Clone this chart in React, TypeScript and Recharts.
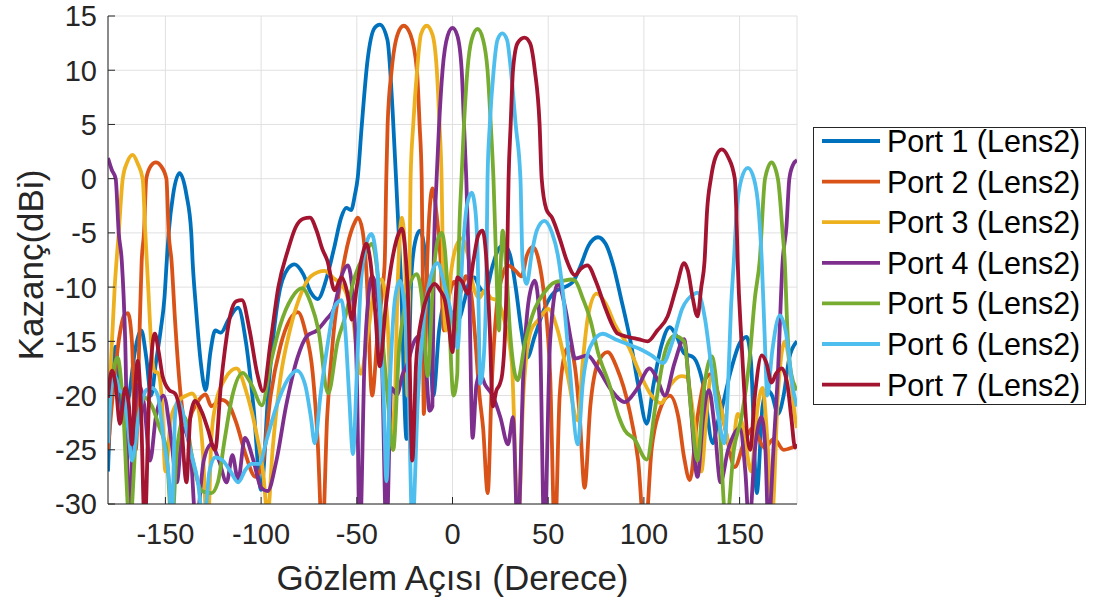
import { LineChart, Line, XAxis, YAxis, CartesianGrid } from "recharts";

const FONT = "'Liberation Sans', Arial, Helvetica, sans-serif";
const INK = "#262626";

const xTicks = [-150, -100, -50, 0, 50, 100, 150];
const yTicks = [-30, -25, -20, -15, -10, -5, 0, 5, 10, 15];

const portNames = [
  "Port 1 (Lens2)", "Port 2 (Lens2)", "Port 3 (Lens2)", "Port 4 (Lens2)",
  "Port 5 (Lens2)", "Port 6 (Lens2)", "Port 7 (Lens2)",
];
const portColors = ["#0072BD", "#D95319", "#EDB120", "#7E2F8E", "#77AC30", "#4DBEEE", "#A2142F"];

// [angle (deg), gain (dBi)]
const port1 = [
  [-180, -27], [-179, -22], [-177.5, -17], [-176, -15.5], [-174.5, -18], [-172, -22], [-169, -20], [-166, -16],
  [-162.6, -14], [-160, -16.5], [-157.5, -20], [-155, -17], [-152.5, -14], [-150.5, -11], [-149.3, -7.6], [-148.3, -5],
  [-146, -1.5], [-142.6, 0.5], [-139, -1.5], [-136.5, -5], [-135.8, -7.6], [-134, -12], [-131.5, -17], [-129, -19.5],
  [-126.5, -16], [-124, -14], [-121, -14.2], [-117, -13], [-112, -11.9], [-108, -15], [-104, -21], [-100, -28.7],
  [-96, -19], [-91, -11], [-86, -8.3], [-82.5, -7.9], [-78, -8.8], [-74, -10.5], [-70.4, -11.1], [-66, -9.3],
  [-62, -6.5], [-58, -3.5], [-55.5, -2.7], [-53, -2.9], [-51, -1.5], [-49.5, 0.1], [-47.5, 4.7], [-44.4, 10.9],
  [-40.7, 13.9], [-38, 14.2], [-34, 12.8], [-31.3, 6.3], [-28.7, -2.9], [-27, -9], [-24, -24], [-21.5, -9],
  [-19.5, -5.8], [-17, -4.8], [-15, -6], [-13, -10], [-10, -20], [-7, -14], [-4, -11.5], [0, -12.5], [3, -13],
  [6.3, -11.2], [9, -9.4], [11.5, -9.1], [14, -10], [17, -10.5], [21, -8], [24, -6.5], [27, -6.1], [30, -7],
  [33, -10], [36, -14], [39, -16.5], [43, -14.5], [48, -12], [53, -10.5], [58.6, -10], [63, -9.5], [67, -8],
  [71, -6.2], [76, -5.4], [80, -6], [84, -8], [88, -11], [93, -15], [97, -19], [101.5, -22.6], [105, -19],
  [109, -15.5], [113.5, -13.7], [117, -14.5], [121, -16.1], [126, -16.5], [131, -19], [136, -24.4], [138.5, -22.5],
  [141, -21], [145, -18], [150, -15.2], [153.7, -14.6], [156, -17], [159, -29], [162, -21], [164.5, -19.5],
  [167, -20], [170, -21.7], [173, -20], [176, -16.5], [180, -15],
];

const port2 = [
  [-180, -25], [-177, -19], [-174, -14.5], [-171.5, -12.6], [-169.6, -12.4], [-167.5, -15], [-165.5, -25], [-163.5, -14],
  [-162.4, -7.6], [-161.2, -5], [-160, 0], [-157.5, 1.2], [-155, 1.5], [-152.5, 1.2], [-149.5, 0], [-148.3, -5],
  [-146.8, -7.6], [-145, -13], [-142, -20], [-139, -23], [-136, -21.5], [-132, -20.3], [-129, -19.9], [-126, -21],
  [-123, -20.6], [-120.5, -20.4], [-117, -20.8], [-113, -22.5], [-108, -25.5], [-103, -27.5], [-99, -26], [-95, -20],
  [-90, -15.5], [-85, -13], [-80.8, -12.3], [-77, -14], [-73, -18], [-70.5, -24], [-68, -33], [-65.5, -22],
  [-62, -14], [-58, -9], [-54, -5.5], [-51, -4], [-49.4, -3.6], [-47, -4.8], [-45, -8.5], [-42, -20], [-39, -14],
  [-36.5, -10], [-35.4, -7.6], [-34.6, 0], [-33.9, 5], [-31.8, 10], [-28.5, 13.4], [-25.5, 14.1], [-22, 13.3],
  [-18.6, 10], [-17.2, 5], [-16.1, 0], [-15.6, -7.6], [-15, -21.7], [-13.2, -7.6], [-11.8, -2.5], [-10.4, -0.9],
  [-8.5, -3], [-6.2, -7.6], [-4.5, -14], [-2, -11], [1, -9.5], [4, -10.5], [7, -9], [10, -11], [12, -15],
  [14, -19.8], [16, -23], [18.4, -29], [20.5, -19], [23, -12], [26, -9], [29, -8], [33, -8.5], [36, -9], [39, -7],
  [42, -6.3], [45, -7.5], [48, -11], [51, -18], [53.5, -33], [56, -20], [59, -16], [61, -15.5], [64, -17.4],
  [66.5, -22], [69, -28.5], [72, -21], [76, -17], [81, -16], [86, -17.5], [92, -21], [97, -26], [100.5, -33],
  [104, -25], [108, -21.5], [113.5, -20], [118, -22], [121, -25.7], [124, -27.8], [128, -22], [132, -18.5],
  [135.5, -18], [139, -20], [143, -23.5], [147.5, -26.6], [152, -24.5], [157, -23], [163, -24.8], [168, -24],
  [173, -25], [180, -24.6],
];

const port3 = [
  [-180, -20.7], [-178.5, -17], [-176.5, -10], [-174.4, -5], [-172.3, 0], [-170, 1.5], [-167.1, 2.2], [-164.5, 1.4],
  [-161.9, 0], [-160.5, -5], [-159, -10], [-157.5, -15], [-155.5, -17.8], [-154, -17.9], [-152, -20], [-150, -27],
  [-147, -22], [-143, -20.5], [-139, -20], [-136, -19.8], [-133, -21], [-130.5, -25], [-128, -33], [-126, -24],
  [-124, -21], [-119, -18.5], [-112.8, -17.5], [-108, -19.5], [-103, -23], [-99, -27], [-96.6, -31], [-94, -25],
  [-90, -18.5], [-85, -14], [-80, -11], [-74, -9], [-66.8, -8.5], [-62, -9.2], [-57, -10], [-52, -13], [-48, -18],
  [-44, -14], [-40, -9.5], [-37, -9.3], [-34, -13], [-31, -25], [-28.5, -9], [-26.5, -3.6], [-25, -6], [-23.5, -20],
  [-22.4, -7.6], [-21.9, 0], [-20.5, 5], [-18.5, 10], [-16.5, 13.3], [-13.5, 14.1], [-10.5, 13.3], [-8.2, 10],
  [-6.8, 5], [-5.7, 0], [-5, -7.6], [-3.5, -14], [-1, -9], [2, -6.2], [5, -5.5], [8, -7], [11, -10], [14, -11],
  [16.8, -10.3], [20, -11], [23, -11.2], [27, -13], [31, -17], [34.3, -32], [37, -20], [41, -14], [45, -13],
  [50, -12], [55, -14], [60, -18], [65.5, -22.3], [68, -17], [71, -12.5], [75.3, -10.6], [80, -11.5], [85, -13.5],
  [92, -15.5], [98, -18], [104, -20], [109, -20.7], [114, -19], [119.6, -18.2], [122.4, -18.3], [126, -22],
  [130, -27], [133, -21], [135, -18.3], [140, -21], [146, -25], [149, -21.7], [152, -23], [156, -27], [159.5, -21],
  [162, -19.3], [164.5, -24], [167, -31], [170, -20], [173.6, -15], [176, -17], [179, -22], [180, -23],
];

const port4 = [
  [-180, 1.9], [-178, 0.8], [-176, 0], [-174.4, -5], [-172.8, -7.6], [-171, -15], [-169, -32], [-167, -24],
  [-164, -19], [-161, -21], [-158, -26], [-155, -22], [-151, -20], [-147, -24], [-144, -28], [-141, -23],
  [-137, -25], [-134, -32], [-130, -26], [-126, -24.5], [-122, -26], [-118, -28], [-115, -25.5], [-112, -27.8],
  [-108.5, -23.9], [-104, -26], [-100, -28.5], [-96.6, -28.8], [-92, -26], [-87, -21], [-81, -16.5], [-76, -14.5],
  [-70.9, -14], [-66, -13], [-62, -12], [-58, -9], [-54.7, -8], [-52, -11], [-50, -18], [-48.4, -33], [-46, -17],
  [-44, -11], [-42, -9], [-40, -10], [-37, -16], [-34.5, -33], [-32, -19.3], [-29, -19.9], [-26, -18], [-24, -17.3],
  [-20, -15], [-17, -14.5], [-14, -17], [-12, -21.4], [-10.5, -21], [-9.8, -7.6], [-8.3, 0], [-7, 5], [-5.2, 10],
  [-2.5, 13.2], [0, 13.9], [2.5, 13.2], [4.8, 10], [6, 5], [7.2, 0], [8.5, -7.6], [10.5, -23.9], [12.5, -19],
  [14.5, -18], [17, -19], [21, -20], [25, -22], [29, -24.5], [31.6, -22], [34.1, -33], [37, -18], [40, -11],
  [43, -9.4], [45.5, -13], [48, -33], [51, -15], [55, -9.7], [59, -12], [62, -15], [64, -16.6], [70.5, -16.3],
  [76, -17.5], [83, -19.5], [90, -20.6], [96, -19.5], [103, -17.5], [107, -18.5], [111, -20], [116, -17],
  [121, -14.8], [124, -20], [128, -27.5], [131, -22], [134, -19.5], [137, -23], [140, -28], [144, -25], [150, -23],
  [153, -27], [155, -32], [158, -25], [161.5, -22], [163.5, -25], [165, -32], [168, -24], [170, -18], [172.5, -7.6],
  [174.5, -4.4], [176, 0], [178, 1.3], [180, 1.7],
];

const port5 = [
  [-180, -21.4], [-177.5, -18], [-175, -16.5], [-172.5, -20], [-168.6, -32], [-165, -23], [-160.8, -20.2],
  [-157, -21], [-153, -23], [-149.5, -25], [-146.6, -32], [-144, -25], [-140, -22], [-136, -25.7], [-131, -28.8],
  [-126, -29], [-122.6, -28], [-119, -24], [-115, -20], [-109.6, -17.9], [-105, -19], [-99.6, -20.9], [-95, -17],
  [-90, -13.5], [-84, -11], [-78.6, -10.1], [-74, -11.5], [-70, -14], [-65, -19.8], [-60, -15], [-56, -12.7],
  [-51, -9], [-46, -7], [-42, -6], [-39, -9], [-36, -16], [-34, -20], [-31, -25], [-28, -16], [-24, -11],
  [-18.7, -8.8], [-16, -11], [-13, -18.2], [-10, -9], [-7.5, -5.5], [-5.7, -5], [-4, -6.5], [-2, -12], [0.5, -20],
  [2.5, -18], [3.2, -7.6], [4.7, 0], [6, 5], [7.8, 10], [10, 12.8], [13.1, 13.8], [16, 12.8], [18.3, 10], [20, 5],
  [21.4, 0], [22.8, -7.6], [24.3, -14], [25.2, -8], [26.2, -4.8], [28, -8], [30, -14], [34, -18.6], [38, -15],
  [43, -12], [48, -10.5], [53, -9.6], [58, -9.4], [62, -9.3], [64, -9.4], [68, -11], [72, -13], [76, -16], [82, -19],
  [87, -22], [90, -23.2], [95, -24], [101.5, -25.9], [106, -21], [111, -16], [116, -14.5], [121, -15], [125, -22],
  [128, -26], [131, -20], [135.5, -16.4], [139, -21], [143, -32], [147, -25], [151, -22], [155, -17], [158, -11],
  [160.5, -7.6], [163.3, 0], [166.7, 1.5], [170, 0], [172.5, -5], [173.6, -7.6], [175, -14], [177, -18], [180, -19.5],
];

const port6 = [
  [-180, -24.4], [-178, -19], [-176, -18.3], [-174, -19.5], [-172, -19.8], [-169.5, -23], [-167.5, -26], [-164, -22],
  [-160, -19.5], [-157, -19.3], [-154, -20], [-151, -24], [-148, -28], [-146.6, -32], [-145, -22], [-143.5, -20.5],
  [-141, -21.5], [-137, -25], [-133, -28], [-130, -32], [-127, -27], [-124, -25.7], [-120, -26], [-116, -27],
  [-112, -28], [-108, -26.8], [-105, -26.3], [-101, -26.3], [-97, -24], [-92, -21], [-86, -18.5], [-81.3, -17.7],
  [-77, -19], [-74, -22], [-72, -24.4], [-69, -20], [-65, -15], [-62, -12], [-60, -11.4], [-58, -11.2], [-56, -14],
  [-54, -20], [-52, -25.4], [-50, -18], [-48, -10], [-45, -6], [-42.4, -5.1], [-40, -7], [-38, -12], [-36, -20],
  [-34.5, -27.9], [-32.5, -18], [-30, -11], [-27.5, -9.4], [-25, -12], [-23, -19], [-21, -32], [-18, -20], [-15, -13],
  [-12, -9.5], [-7.8, -7.8], [-4, -10], [0, -13], [2.6, -15.6], [5.3, -6.8], [7.5, -2.5], [10, -1.3], [12, -3],
  [13.1, -6.8], [14.5, -18.9], [16.5, -16], [17.8, -7.6], [18.3, 0], [19.5, 5], [21.5, 10], [23.5, 12.8], [26, 13.4],
  [28.5, 12.8], [30.5, 10], [33, 5], [35.5, 0], [36.6, -7.6], [38.7, -9.7], [41.5, -6.8], [44, -4.8], [48, -3.9],
  [52, -5], [55, -7], [58, -11], [61, -17], [65.5, -24.5], [68, -19], [72, -15.5], [78.4, -14.3], [85, -14.8],
  [92, -15.3], [99, -15.8], [104, -16.3], [110, -17], [115, -15], [120, -12], [126.6, -10.6], [128, -10.5],
  [132, -13], [135, -17], [139, -22], [142, -24.4], [144, -19], [145.5, -12], [147, -7.6], [148.5, -3], [151, 0],
  [154.3, 1], [157.5, 0], [160, -3], [161.6, -7.6], [163, -14], [164.5, -20], [167, -16], [171, -12.6], [174, -14],
  [178, -19.5], [180, -21],
];

const port7 = [
  [-180, -20.2], [-178, -17.7], [-176, -19], [-173.8, -22.6], [-171, -19.3], [-169, -21], [-167.5, -24.5],
  [-166, -20], [-164.5, -16.8], [-163, -20], [-160.8, -32], [-158.5, -20], [-155.5, -14.3], [-153.5, -16],
  [-151.5, -18.2], [-148, -19.5], [-145, -19.8], [-142, -22], [-139, -28], [-137, -22], [-134.6, -20.5],
  [-131, -21.5], [-128, -23], [-124, -25], [-121, -19], [-119, -15.9], [-116, -12.5], [-113, -11.3], [-110, -11.2],
  [-106, -14], [-102, -18], [-99, -19.6], [-95, -15], [-91, -10], [-86, -6.6], [-82, -4.5], [-78, -3.7],
  [-74.5, -3.6], [-71, -4.8], [-68, -6.5], [-65.3, -7.6], [-61.6, -10.3], [-58, -9.1], [-55, -10.5], [-52.6, -13],
  [-50, -10], [-47, -7], [-45, -6], [-43, -7.5], [-40.5, -12], [-38, -17.3], [-35, -12], [-31, -7], [-28, -5],
  [-26.5, -4.6], [-25, -6], [-23, -12], [-21, -26], [-19, -17], [-16, -12.7], [-12.5, -10.5], [-9.3, -9.7],
  [-6.5, -10.3], [-4, -11.2], [-2, -13.5], [0, -16], [1.3, -12], [2.6, -9.1], [5, -9.5], [8, -10.6], [11, -7.5],
  [13.5, -5.2], [15.7, -4.8], [17.5, -7], [19.5, -14], [21, -21], [23, -19.5], [24.6, -19], [26, -18], [27.5, -14],
  [28.5, -8], [29.3, 0], [30.4, 5], [31.6, 10], [34, 12.5], [37.6, 13], [40.5, 12.5], [43, 10], [45.5, 5],
  [46.6, 0], [49, -2.8], [52, -3.6], [56, -5.5], [59.8, -7.6], [64, -8.9], [67, -8.3], [70.5, -8], [75, -9.5],
  [80, -12], [86.4, -14.3], [92, -14.6], [97, -14.8], [102, -15], [107, -14], [112.4, -12.7], [117, -10],
  [121, -7.8], [123, -8.5], [125.5, -11], [128, -12.7], [130, -10], [131.7, -7.6], [133, -3], [135, 0],
  [137.5, 2], [140.7, 2.7], [144, 2], [147.5, 0], [148.3, -3], [149, -7.6], [151, -15], [155.5, -25], [158, -20],
  [161.6, -16.3], [164, -17], [166.7, -18.8], [169, -18], [172, -17.5], [175, -19], [177, -22], [179, -24.8],
  [180, -24.5],
];

const ports = [port1, port2, port3, port4, port5, port6, port7];

const toPts = (arr: number[][]) => arr.map(([x, y]) => ({ x, y }));

function XTick({ x, y, payload }: any) {
  return (
    <g>
      <line x1={x} x2={x} y1={y} y2={y - 7} stroke={INK} />
      <text x={x} y={y + 40} textAnchor="middle" fontSize={29} fill={INK} fontFamily={FONT}>
        {payload.value}
      </text>
    </g>
  );
}

function YTick({ x, y, payload }: any) {
  return (
    <g>
      <line x1={x} x2={x + 7} y1={y} y2={y} stroke={INK} />
      <text x={x - 11} y={y} dy="0.36em" textAnchor="end" fontSize={29} fill={INK} fontFamily={FONT}>
        {payload.value}
      </text>
    </g>
  );
}

function TopTick({ x, y }: any) {
  return <line x1={x} x2={x} y1={y} y2={y + 7} stroke={INK} />;
}

function RightTick({ x, y }: any) {
  return <line x1={x} x2={x - 7} y1={y} y2={y} stroke={INK} />;
}

function XLabel() {
  return (
    <text x={452.5} y={590} textAnchor="middle" fontSize={35} fill={INK} fontFamily={FONT}>
      Gözlem Açısı (Derece)
    </text>
  );
}

function YLabel() {
  return (
    <text
      x={30}
      y={265}
      textAnchor="middle"
      dominantBaseline="central"
      transform="rotate(-90, 30, 265)"
      fontSize={35}
      fill={INK}
      fontFamily={FONT}
    >
      Kazanç(dBi)
    </text>
  );
}

function PortLegend() {
  return (
    <div
      style={{
        position: "absolute", left: 813, top: 127, width: 273, height: 278,
        boxSizing: "border-box", border: `1px solid ${INK}`, background: "#fff",
      }}
    >
      <svg width={271} height={276} style={{ overflow: "visible", display: "block" }}>
        {portNames.map((name, i) => {
          const cy = 13 + i * 40.6;
          return (
            <g key={name}>
              <line x1={8} x2={66} y1={cy} y2={cy} stroke={portColors[i]} strokeWidth={3.8} />
              <text x={73} y={cy} dy="0.36em" fontSize={30.5} fill="#000" fontFamily={FONT}>
                {name}
              </text>
            </g>
          );
        })}
      </svg>
    </div>
  );
}

export default function App() {
  return (
    <div style={{ position: "absolute", left: 0, top: 0, width: 1095, height: 604, background: "#fff" }}>
      <LineChart width={1095} height={604} margin={{ top: 16, right: 298, bottom: 40, left: 8 }}>
        <CartesianGrid stroke="#e0e0e0" />
        <XAxis
          dataKey="x"
          type="number"
          domain={[-180, 180]}
          ticks={xTicks}
          interval={0}
          tick={XTick}
          tickLine={false}
          tickSize={0}
          tickMargin={0}
          axisLine={{ stroke: INK }}
          height={60}
          allowDataOverflow
          label={XLabel}
        />
        <XAxis
          xAxisId="top"
          orientation="top"
          type="number"
          domain={[-180, 180]}
          ticks={xTicks}
          interval={0}
          tick={TopTick}
          tickLine={false}
          tickSize={0}
          tickMargin={0}
          axisLine={{ stroke: INK }}
          height={0}
          allowDataOverflow
        />
        <YAxis
          type="number"
          domain={[-30, 15]}
          ticks={yTicks}
          interval={0}
          tick={YTick}
          tickLine={false}
          tickSize={0}
          tickMargin={0}
          axisLine={{ stroke: INK }}
          width={100}
          allowDataOverflow
          label={YLabel}
        />
        <YAxis
          yAxisId="right"
          orientation="right"
          type="number"
          domain={[-30, 15]}
          ticks={yTicks}
          interval={0}
          tick={RightTick}
          tickLine={false}
          tickSize={0}
          tickMargin={0}
          axisLine={{ stroke: INK }}
          width={0}
          allowDataOverflow
        />
        {ports.map((p, i) => (
          <Line
            key={portNames[i]}
            data={toPts(p)}
            dataKey="y"
            name={portNames[i]}
            type="monotone"
            stroke={portColors[i]}
            strokeWidth={3.8}
            dot={false}
            activeDot={false}
            isAnimationActive={false}
          />
        ))}
      </LineChart>
      <PortLegend />
    </div>
  );
}
